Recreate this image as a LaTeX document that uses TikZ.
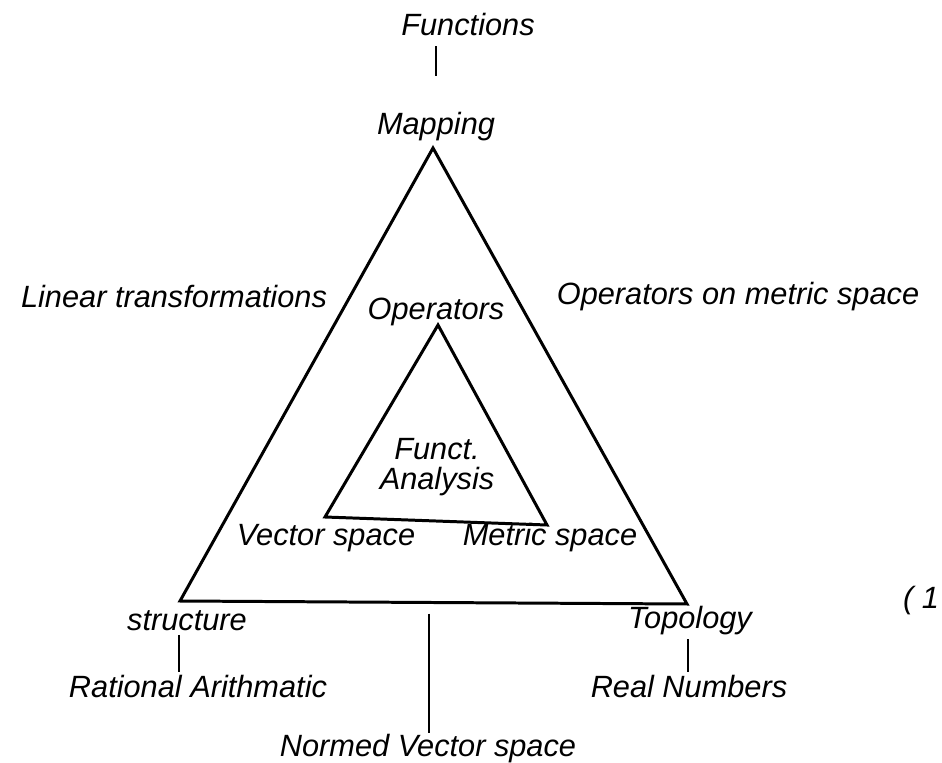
\documentclass[tikz,border=0pt]{standalone}
\usepackage{fontspec}
\setmainfont{Liberation Sans}
\usetikzlibrary{positioning,calc}
\tikzset{
  lbl/.style={font=\fontsize{17.5}{20}\selectfont\itshape, inner sep=1pt},
  edge/.style={line width=1.7pt, line join=miter},
  tick/.style={line width=1.1pt}
}
\begin{document}
\begin{tikzpicture}[x=0.02cm, y=-0.02cm]
\useasboundingbox (0,0) rectangle (942,763);
% corners of the two triangles
\coordinate (top) at (433,148);
\coordinate (left) at (180,601);
\coordinate (right) at (687,604);
\coordinate (itop) at (438,325);
\coordinate (ileft) at (325,517);
\coordinate (iright) at (547,525);
\coordinate (bmid) at (429,603);
\draw[edge] (top) -- (left) -- (right) -- cycle;
\draw[edge] (itop) -- (ileft) -- (iright) -- cycle;
% labels
\node[lbl] (functions) at (468,25) {Functions};
\node[lbl] (mapping) at (436,127) {Mapping};
\node[lbl] (lintrans) at (174,297) {Linear transformations};
\node[lbl] (operators) at (436,312) {Operators};
\node[lbl] (opmetric) at (738,297) {Operators on metric space};
\node[lbl, align=center] (funct) at (437,467) {Funct.\\[-3pt]Analysis};
\node[lbl] (vector) at (326,538) {Vector space};
\node[lbl] (metric) at (550,538) {Metric space};
\node[lbl] (structure) at (187,621) {structure};
\node[lbl] (rational) at (198,687) {Rational Arithmatic};
\node[lbl] (topology) at (690,621) {Topology};
\node[lbl] (real) at (689,687) {Real Numbers};
\node[lbl] (normed) at (428,749) {Normed Vector space};
\node[lbl, anchor=east] (eqno) at (941,601) {( 1};
% ticks
\draw[tick, shorten <=0.16cm, shorten >=0.7cm] (mapping.north |- functions.south) -- (mapping.north);
\draw[tick, shorten <=1pt, shorten >=1pt] (structure.south -| 179,0) -- (rational.north -| 179,0);
\draw[tick, shorten <=1pt, shorten >=1pt] (topology.south -| 688,0) -- (real.north -| 688,0);
\draw[tick, shorten <=6pt] (bmid) -- (normed.north -| bmid);
\end{tikzpicture}
\end{document}
